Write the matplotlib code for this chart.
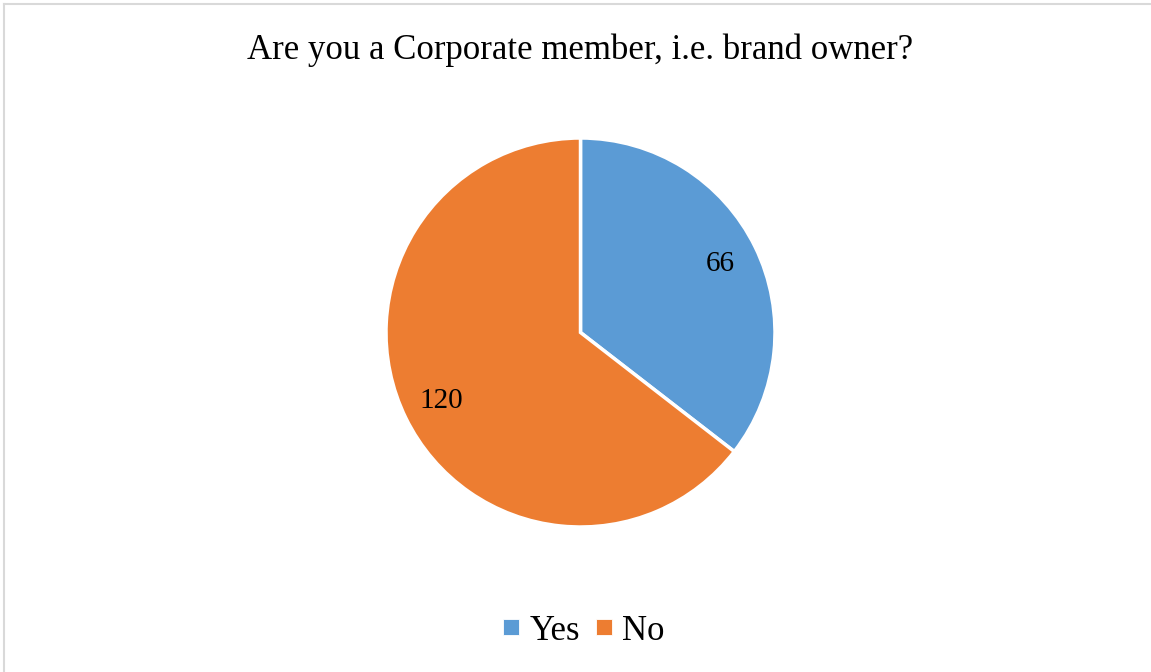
import matplotlib.pyplot as plt
from matplotlib.lines import Line2D

plt.rcParams["font.family"] = ["Liberation Serif", "DejaVu Serif"]

title = "Are you a Corporate member, i.e. brand owner?"
categories = ["Yes", "No"]
counts = [66, 120]
colors = ["#5B9BD5", "#ED7D31"]

W, H = 1151, 672
fig = plt.figure(figsize=(W / 100, H / 100), dpi=100)

# chart frame: only top and left edges fall inside the image
fig.add_artist(Line2D([4 / W, 1], [1 - 4 / H, 1 - 4 / H], color="#d9d9d9", lw=1.5))
fig.add_artist(Line2D([4 / W, 4 / W], [0, 1 - 4 / H], color="#d9d9d9", lw=1.5))

fig.text(580 / W, 1 - 50 / H, title, ha="center", va="center", fontsize=25)

r = 194.5
cx, cy = 580.5, 332.5
ax = fig.add_axes([(cx - r) / W, 1 - (cy + r) / H, 2 * r / W, 2 * r / H])
wedges, texts, autotexts = ax.pie(
    counts,
    colors=colors,
    startangle=90,
    counterclock=False,
    autopct=lambda p: f"{round(p * sum(counts) / 100):d}",
    pctdistance=0.8,
    wedgeprops=dict(edgecolor="white", linewidth=2.5),
    textprops=dict(fontsize=21, color="black"),
)
ax.set_aspect("equal")
ax.set_xlim(-1, 1)
ax.set_ylim(-1, 1)

# square legend markers
handles = [
    Line2D([], [], marker="s", linestyle="none", markersize=11,
           markerfacecolor=c, markeredgecolor="white", markeredgewidth=0.6)
    for c in colors
]
fig.legend(
    handles,
    categories,
    loc="center",
    bbox_to_anchor=(584 / W, 1 - 631 / H),
    ncol=2,
    frameon=False,
    fontsize=25,
    handlelength=0.45,
    handletextpad=0.3,
    columnspacing=0.45,
)

fig.savefig("out.png", dpi=100)
